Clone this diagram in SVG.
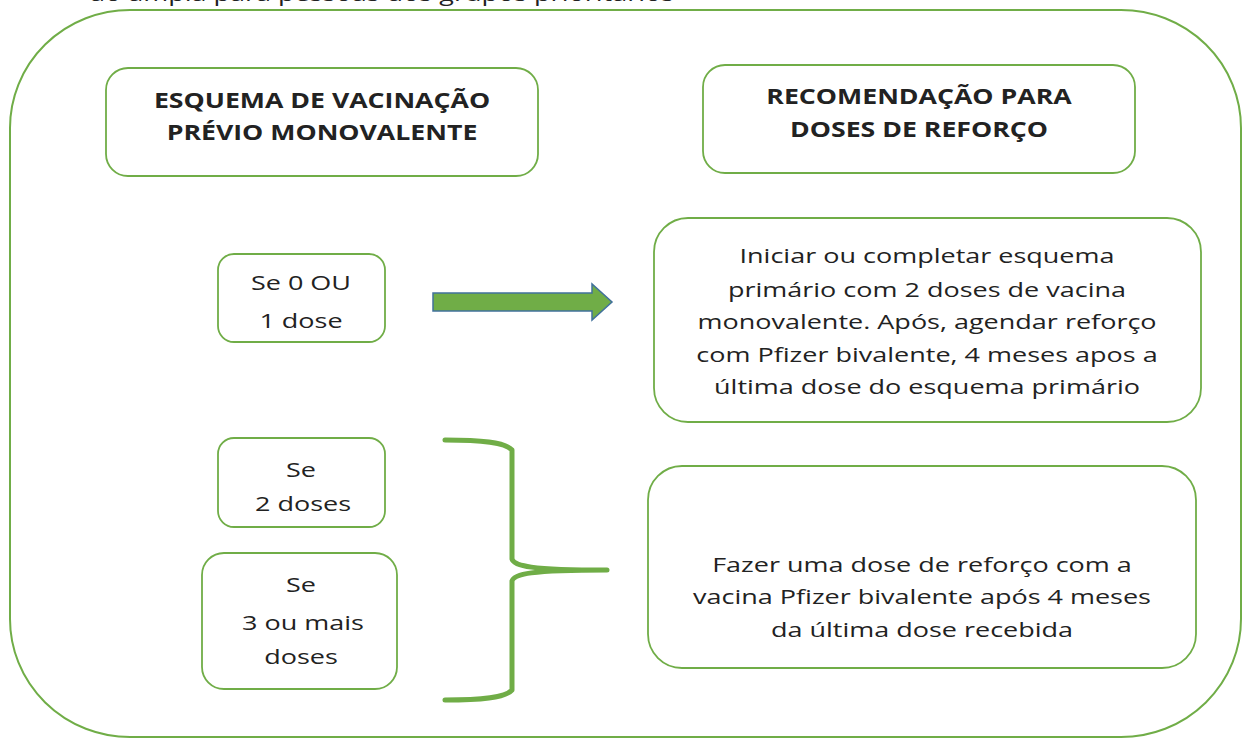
<svg xmlns="http://www.w3.org/2000/svg" width="1242" height="738" viewBox="0 0 1242 738">
<defs>
<style>
.frame{fill:none;stroke:#70AD47;stroke-width:2}
.box{fill:#fff;stroke:#70AD47;stroke-width:1.8}
.t{font-family:"Open Sans","Liberation Sans",sans-serif;font-size:20px;fill:#222;text-anchor:middle}
.h{font-family:"Open Sans","Liberation Sans",sans-serif;font-size:21px;font-weight:bold;fill:#222;text-anchor:middle}
.brace{fill:none;stroke:#70AD47;stroke-width:5;stroke-linecap:round;stroke-linejoin:round}
.arrow{fill:#70AD47;stroke:#41719C;stroke-width:1.5}
</style>
</defs>
<rect width="1242" height="738" fill="#fff"/>
<text class="t" transform="translate(90,1) scale(1.35,1)" style="text-anchor:start">ão ampla para pessoas dos grupos prioritários</text>
<rect class="frame" x="10" y="10" width="1231" height="727" rx="120" ry="118"/>
<g id="hdr-left">
<rect class="box" x="106" y="68" width="432" height="108" rx="22"/>
<text class="h" transform="translate(322,108) scale(1.27,1)">ESQUEMA DE VACINAÇÃO</text>
<text class="h" transform="translate(322,140) scale(1.27,1)">PRÉVIO MONOVALENTE</text>
</g>
<g id="hdr-right">
<rect class="box" x="703" y="65" width="432" height="108" rx="22"/>
<text class="h" transform="translate(919,104) scale(1.27,1)">RECOMENDAÇÃO PARA</text>
<text class="h" transform="translate(919,137) scale(1.27,1)">DOSES DE REFORÇO</text>
</g>
<g id="n-0-1">
<rect class="box" x="218" y="254" width="167" height="88" rx="16"/>
<text class="t" transform="translate(301,290) scale(1.35,1)">Se 0 OU</text>
<text class="t" transform="translate(301,328) scale(1.35,1)">1 dose</text>
</g>
<g id="r-primary">
<rect class="box" x="654" y="218" width="547" height="204" rx="34"/>
<text class="t" transform="translate(927,263) scale(1.35,1)">Iniciar ou completar esquema</text>
<text class="t" transform="translate(927,297) scale(1.35,1)">primário com 2 doses de vacina</text>
<text class="t" transform="translate(927,329) scale(1.35,1)">monovalente. Após, agendar reforço</text>
<text class="t" transform="translate(927,362) scale(1.35,1)">com Pfizer bivalente, 4 meses apos a</text>
<text class="t" transform="translate(927,394) scale(1.35,1)">última dose do esquema primário</text>
</g>
<g id="n-2">
<rect class="box" x="218" y="438" width="167" height="89" rx="16"/>
<text class="t" transform="translate(301,477) scale(1.35,1)">Se</text>
<text class="t" transform="translate(303,511) scale(1.35,1)">2 doses</text>
</g>
<g id="n-3">
<rect class="box" x="202" y="553" width="195" height="136" rx="22"/>
<text class="t" transform="translate(301,592) scale(1.35,1)">Se</text>
<text class="t" transform="translate(303,630) scale(1.35,1)">3 ou mais</text>
<text class="t" transform="translate(301,664) scale(1.35,1)">doses</text>
</g>
<g id="r-booster">
<rect class="box" x="648" y="466" width="548" height="202" rx="34"/>
<text class="t" transform="translate(922,572) scale(1.35,1)">Fazer uma dose de reforço com a</text>
<text class="t" transform="translate(922,604) scale(1.35,1)">vacina Pfizer bivalente após 4 meses</text>
<text class="t" transform="translate(922,637) scale(1.35,1)">da última dose recebida</text>
</g>
<g id="connectors">
<path class="arrow" d="M433,293 H592 V284 L612,302 L592,320 V311 H433 Z"/>
<path class="brace" d="M445,440 C480,440 505,442 512,450 V559 C514,566 530,570 607,570 C530,570 514,574 512,581 V690 C505,698 480,700 445,700"/>
</g>
</svg>
